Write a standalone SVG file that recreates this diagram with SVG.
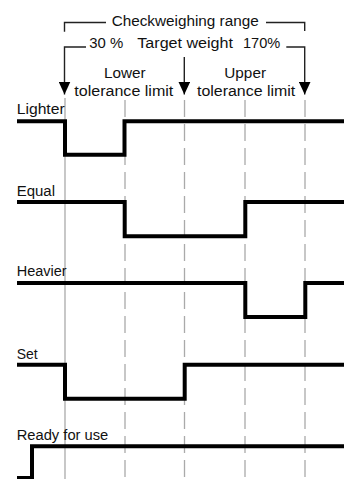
<svg xmlns="http://www.w3.org/2000/svg" width="344" height="479" viewBox="0 0 344 479">
  <style>
    text { font-family: "Liberation Sans", Arial, sans-serif; font-size: 15.5px; fill: #111; }
    .sig { fill: none; stroke: #000; stroke-width: 4; stroke-linejoin: miter; stroke-linecap: butt; }
    .grid { fill: none; stroke: #aaa; stroke-width: 1.3; }
    .dash { stroke-dasharray: 17 7; }
    .brk { fill: none; stroke: #222; stroke-width: 1.4; }
  </style>
  <defs>
    <marker id="ah" viewBox="0 0 13 12" refX="13" refY="6" markerWidth="13" markerHeight="12" markerUnits="userSpaceOnUse" orient="auto">
      <path d="M0,0 L13,6 L0,12 Z" fill="#000"/>
    </marker>
  </defs>

  <g id="gridlines">
    <line class="grid" x1="65" y1="98" x2="65" y2="479" stroke="#999"/>
    <line class="grid dash" x1="125" y1="100" x2="125" y2="479"/>
    <line class="grid dash" x1="184.5" y1="100" x2="184.5" y2="479"/>
    <line class="grid dash" x1="245" y1="100" x2="245" y2="479"/>
    <line class="grid dash" x1="305" y1="100" x2="305" y2="479"/>
  </g>

  <g id="header">
    <text x="111.7" y="26" textLength="147" lengthAdjust="spacingAndGlyphs">Checkweighing range</text>
    <text x="89.3" y="48" textLength="34" lengthAdjust="spacingAndGlyphs">30 %</text>
    <text x="137.3" y="48" textLength="95.7" lengthAdjust="spacingAndGlyphs">Target weight</text>
    <text x="243" y="48" textLength="37.3" lengthAdjust="spacingAndGlyphs">170%</text>
    <text x="104" y="78" textLength="41.7" lengthAdjust="spacingAndGlyphs">Lower</text>
    <text x="74.3" y="96" textLength="99" lengthAdjust="spacingAndGlyphs">tolerance limit</text>
    <text x="224.3" y="78" textLength="41.7" lengthAdjust="spacingAndGlyphs">Upper</text>
    <text x="197" y="96" textLength="98.3" lengthAdjust="spacingAndGlyphs">tolerance limit</text>
  </g>

  <g id="connectors">
    <polyline class="brk" points="64.5,31.7 64.5,22.5 106,22.5"/>
    <polyline class="brk" points="266,22.5 304.7,22.5 304.7,31"/>
    <polyline class="brk" points="86,47 64.5,47 64.5,94.5" marker-end="url(#ah)"/>
    <polyline class="brk" points="286.3,47 304.7,47 304.7,94.5" marker-end="url(#ah)"/>
    <line class="brk" x1="184.3" y1="57" x2="184.3" y2="94.5" marker-end="url(#ah)"/>
  </g>

  <g id="lighter">
    <text x="16.7" y="114" textLength="48" lengthAdjust="spacingAndGlyphs">Lighter</text>
    <polyline class="sig" points="17,121.3 65,121.3 65,154.7 124.5,154.7 124.5,121.3 344,121.3"/>
  </g>

  <g id="equal">
    <text x="16.7" y="196" textLength="38.3" lengthAdjust="spacingAndGlyphs">Equal</text>
    <polyline class="sig" points="17,202 124.7,202 124.7,236.3 245.3,236.3 245.3,202 344,202"/>
  </g>

  <g id="heavier">
    <text x="16.7" y="276" textLength="50" lengthAdjust="spacingAndGlyphs">Heavier</text>
    <polyline class="sig" points="17,283 245.3,283 245.3,317 305.3,317 305.3,283 344,283"/>
  </g>

  <g id="set">
    <text x="16.7" y="359" textLength="21" lengthAdjust="spacingAndGlyphs">Set</text>
    <polyline class="sig" points="17,364.7 65,364.7 65,398.7 184.7,398.7 184.7,364.7 344,364.7"/>
  </g>

  <g id="ready">
    <text x="16.7" y="440" textLength="91.6" lengthAdjust="spacingAndGlyphs">Ready for use</text>
    <polyline class="sig" points="17,478 32,478 32,446.3 344,446.3"/>
  </g>
</svg>
